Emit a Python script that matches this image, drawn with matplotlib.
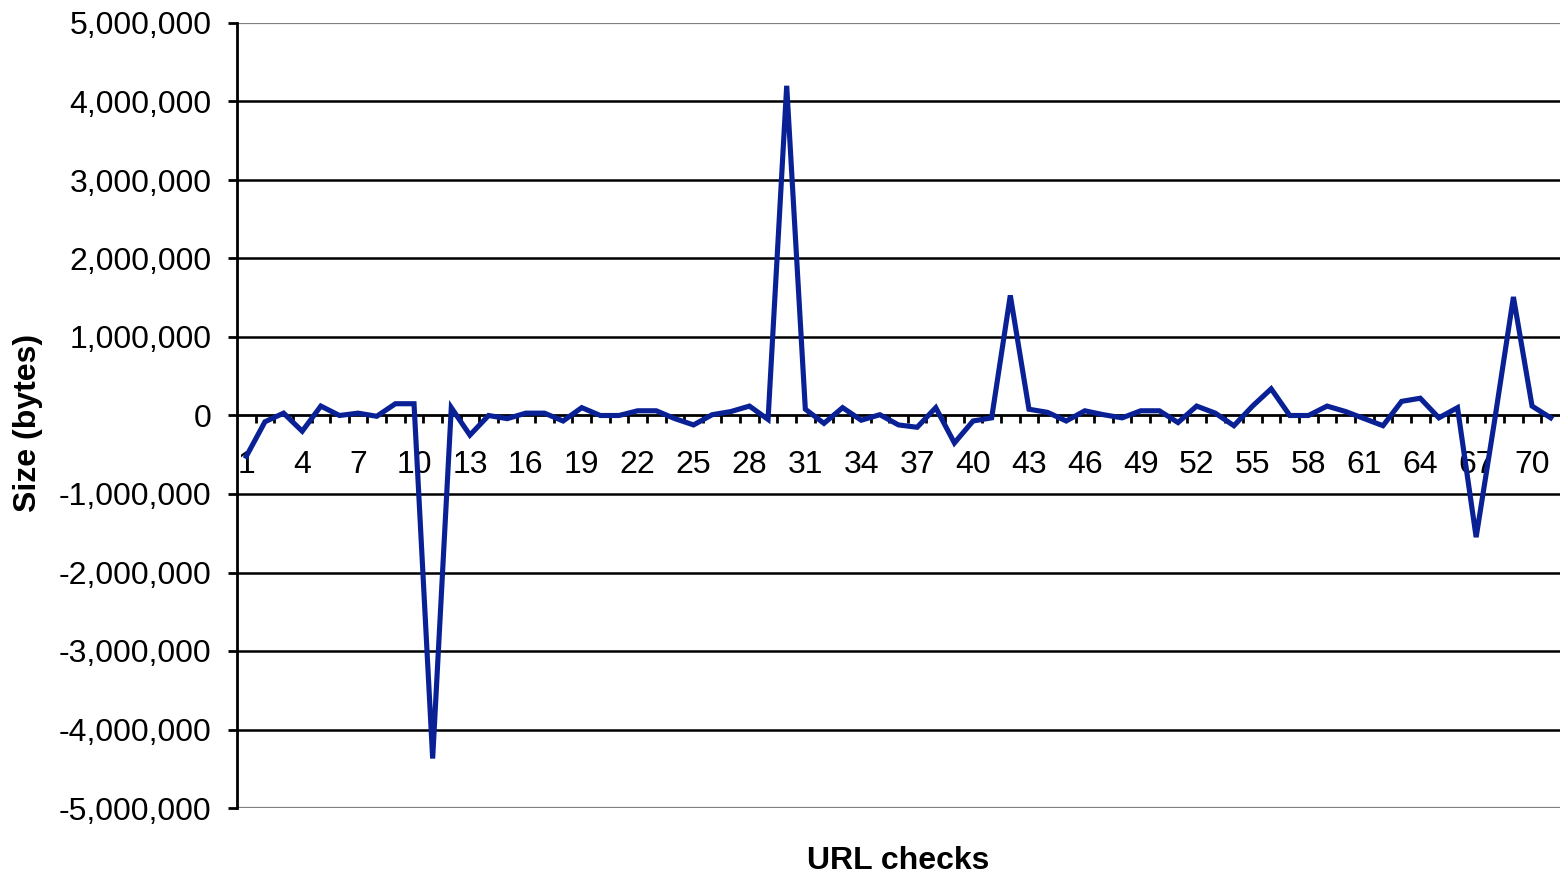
import numpy as np
import matplotlib
matplotlib.use("Agg")
import matplotlib.pyplot as plt
from matplotlib.ticker import FixedLocator, FuncFormatter

# size change between consecutive URL checks (bytes)
checks = list(range(1, 72))
size_delta = [
    -520000, -80000, 30000, -200000, 120000, 0, 30000, -10000, 150000, 150000,
    -4370000, 100000, -250000, 0, -40000, 30000, 30000, -70000, 100000, 0,
    0, 60000, 60000, -40000, -120000, 10000, 50000, 120000, -50000, 4200000,
    80000, -100000, 100000, -60000, 10000, -120000, -150000, 100000, -350000, -70000,
    -30000, 1530000, 80000, 40000, -70000, 60000, 10000, -30000, 60000, 60000,
    -90000, 120000, 30000, -130000, 120000, 340000, 0, 0, 120000, 50000,
    -40000, -130000, 180000, 220000, -30000, 100000, -1550000, -50000, 1510000, 120000,
    -30000,
]
y_ticks = [-5e6, -4e6, -3e6, -2e6, -1e6, 0, 1e6, 2e6, 3e6, 4e6, 5e6]
label_checks = checks[::3]

plt.rcParams['font.family'] = ['Liberation Sans', 'DejaVu Sans']

fig = plt.figure(figsize=(15.6, 8.75), dpi=100)
ax = fig.add_axes([237 / 1560, 1 - 808 / 875, 1 - 237 / 1560, (808 - 23) / 875])

# horizontal gridlines, plot-area border in grey
for yv in y_ticks:
    if yv == 0:
        continue
    edge = abs(yv) == 5e6
    ax.axhline(yv, color='#808080' if edge else 'black', lw=1.6 if edge else 1.8, zorder=1)

ax.plot(checks, size_delta, color='#0a2196', lw=3.7, zorder=4, solid_joinstyle='miter')

ax.set_xlim(0.5, len(checks) + 0.5)
ax.set_ylim(-5e6, 5e6)

# category axis sits on the zero line
for s in ('top', 'right'):
    ax.spines[s].set_visible(False)
ax.spines['bottom'].set_position(('data', 0))
ax.spines['bottom'].set_linewidth(2)
ax.spines['bottom'].set_zorder(3)
ax.spines['left'].set_linewidth(2)

ax.xaxis.set_major_locator(FixedLocator(label_checks))
ax.xaxis.set_minor_locator(FixedLocator(np.arange(1.5, len(checks) + 0.5, 1)))
ax.set_xticklabels([str(c) for c in label_checks])
ax.tick_params(axis='x', which='major', length=0, pad=25, labelsize=23)
ax.tick_params(axis='x', which='minor', length=6, width=2, direction='out')

ax.yaxis.set_major_locator(FixedLocator(y_ticks))
ax.yaxis.set_major_formatter(FuncFormatter(lambda v, p: f'{v:,.0f}'))
ax.tick_params(axis='y', length=6.5, width=2, direction='out', pad=12, labelsize=23)

ax.set_ylabel('Size (bytes)', fontsize=23, fontweight='bold')
ax.yaxis.set_label_coords(-0.147, 0.49)
ax.set_xlabel('URL checks', fontsize=23, fontweight='bold')
ax.xaxis.set_label_coords(0.5, -0.048)

fig.savefig('out.png', dpi=100)
